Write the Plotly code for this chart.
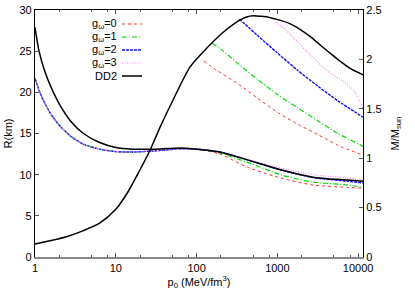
import plotly.graph_objects as go

# ---------------- data ----------------
# radius curves R(km) vs log10(p0)
logp_R_dd2 = [0.0, 0.05, 0.12, 0.2, 0.3, 0.45, 0.6, 0.8, 1.0, 1.2, 1.5, 1.8, 2.0, 2.29, 2.63, 3.04, 3.44, 3.87, 4.06]
R_dd2 = [27.9, 25.0, 22.6, 20.6, 18.6, 16.4, 15.0, 13.9, 13.3, 13.1, 13.1, 13.25, 13.1, 12.75, 11.8, 10.6, 9.7, 9.35, 9.2]

logp_R_common = [0.0, 0.06, 0.12, 0.2, 0.3, 0.45, 0.6, 0.8, 1.0, 1.2, 1.5, 1.8, 2.0]
R_common = [21.7, 20.0, 18.7, 17.3, 16.0, 14.6, 13.7, 13.1, 12.8, 12.75, 12.9, 13.15, 13.1]

logp_R_tail = [2.29, 2.63, 3.04, 3.44, 3.87, 4.06]
R_g0_tail = [12.5, 10.9, 9.6, 8.75, 8.45, 8.35]
R_g1_tail = [12.6, 11.5, 10.0, 9.1, 8.75, 8.45]
R_g2_tail = [12.75, 11.8, 10.6, 9.65, 9.2, 9.0]
R_g3_tail = [12.75, 11.85, 10.8, 10.0, 9.6, 9.35]

# mass curves M/Msun vs log10(p0)
logp_M_dd2 = [0.0, 0.2, 0.4, 0.6, 0.8, 1.0, 1.15, 1.3, 1.425, 1.55, 1.71, 1.92, 2.13, 2.33, 2.54, 2.62, 2.70, 2.79, 2.9,
              3.04, 3.16, 3.28, 3.40, 3.53, 3.65, 3.78, 3.90, 4.06]
M_dd2 = [0.132, 0.167, 0.208, 0.267, 0.342, 0.483, 0.658, 0.883, 1.083, 1.317, 1.592, 1.925, 2.117, 2.275, 2.40, 2.43,
         2.442, 2.436, 2.425, 2.395, 2.36, 2.305, 2.235, 2.146, 2.065, 1.98, 1.91, 1.845]

logp_M_g0 = [2.09, 2.25, 2.5, 2.75, 3.0, 3.25, 3.5, 3.75, 4.06]
M_g0 = [1.983, 1.89, 1.76, 1.61, 1.465, 1.345, 1.24, 1.13, 1.03]
logp_M_g1 = [2.19, 2.33, 2.5, 2.75, 3.0, 3.25, 3.5, 3.75, 4.06]
M_g1 = [2.167, 2.085, 1.965, 1.80, 1.645, 1.51, 1.38, 1.25, 1.12]
logp_M_g2 = [2.53, 2.75, 3.0, 3.25, 3.5, 3.75, 4.06]
M_g2 = [2.408, 2.245, 2.065, 1.89, 1.73, 1.58, 1.415]
logp_M_g3 = [2.98, 3.07, 3.2, 3.41, 3.62, 3.82, 3.94, 4.0, 4.03, 4.06]
M_g3 = [2.375, 2.325, 2.217, 2.042, 1.883, 1.775, 1.69, 1.61, 1.56, 1.50]

x_tickvals = [1, 10, 100, 1000, 10000]
x_ticktext = ["1", "10", "100", "1000", "10000"]
yR_ticks = [0, 5, 10, 15, 20, 25, 30]
yM_ticks = [0, 0.5, 1, 1.5, 2, 2.5]
yM_ticktext = ["0", "0.5", "1", "1.5", "2", "2.5"]

series_names = ["g<sub>ω</sub>=0", "g<sub>ω</sub>=1", "g<sub>ω</sub>=2", "g<sub>ω</sub>=3", "DD2"]

# ---------------- styles ----------------
styles = [
    dict(color="#ff3030", width=1, dash="3px,3px"),
    dict(color="#00dd00", width=1.2, dash="5px,2px,1px,2px"),
    dict(color="#1010ff", width=1.4, dash="3px,1px"),
    dict(color="#ee82ee", width=1.2, dash="1px,1.5px"),
    dict(color="#000000", width=1.5, dash="solid"),
]

def P(lst):
    return [10 ** v for v in lst]

fig = go.Figure()

R_tails = [R_g0_tail, R_g1_tail, R_g2_tail, R_g3_tail]
M_logs = [logp_M_g0, logp_M_g1, logp_M_g2, logp_M_g3]
M_vals = [M_g0, M_g1, M_g2, M_g3]

for i in range(4):
    fig.add_trace(go.Scatter(x=P(logp_R_common + logp_R_tail), y=R_common + R_tails[i],
                             mode="lines", line=dict(**styles[i], shape="spline", smoothing=0.7),
                             showlegend=False, xaxis="x", yaxis="y"))
    fig.add_trace(go.Scatter(x=P(M_logs[i]), y=M_vals[i],
                             mode="lines", line=dict(**styles[i], shape="spline", smoothing=0.6),
                             showlegend=False, xaxis="x", yaxis="y2"))

fig.add_trace(go.Scatter(x=P(logp_R_dd2), y=R_dd2, mode="lines",
                         line=dict(**styles[4], shape="spline", smoothing=0.7),
                         showlegend=False, xaxis="x", yaxis="y"))
fig.add_trace(go.Scatter(x=P(logp_M_dd2), y=M_dd2, mode="lines",
                         line=dict(**styles[4], shape="spline", smoothing=0.7),
                         showlegend=False, xaxis="x", yaxis="y2"))

# ---------------- layout ----------------
x0, x1, ytop, ybot = 35, 363, 10, 257   # plot area in window pixels
W, H = 415, 291
font = dict(family="Liberation Sans, Arial, sans-serif", size=11, color="#000")

xrange = [0, 4.06]
minor_vals = [v * m for v in [1, 10, 100, 1000, 10000] for m in (2, 5, 8) if v * m < 11500]

fig.update_layout(
    width=W, height=H,
    margin=dict(l=x0, r=W - x1, t=ytop, b=H - ybot, pad=0, autoexpand=False),
    paper_bgcolor="white", plot_bgcolor="white",
    font=font,
    showlegend=False,
    xaxis=dict(type="log", range=xrange, tickvals=x_tickvals, ticktext=x_ticktext, automargin=False,
               ticks="inside", ticklen=4, tickcolor="#555", showgrid=False, zeroline=False,
               showline=True, linecolor="#888", linewidth=2, ticklabeloverflow="allow",
               minor=dict(tickvals=minor_vals, ticks="inside", ticklen=2, tickcolor="#555"),
               title=dict(text="p<sub>0</sub> (MeV/fm<sup>3</sup>)", standoff=0, font=font)),
    xaxis2=dict(type="log", range=xrange, overlaying="x", side="top", tickvals=x_tickvals, automargin=False,
                showticklabels=False, ticks="inside", ticklen=4, tickcolor="#555",
                showgrid=False, zeroline=False, showline=True, linecolor="#000", linewidth=1,
                minor=dict(tickvals=minor_vals, ticks="inside", ticklen=2, tickcolor="#555")),
    yaxis=dict(range=[0, 30], tickvals=yR_ticks, ticks="inside", ticklen=4, tickcolor="#555", automargin=False,
               showgrid=False, zeroline=False, showline=True, linecolor="#000", linewidth=1.2,
               ticklabeloverflow="allow",
               title=dict(text="R(km)", standoff=4, font=font)),
    yaxis2=dict(range=[0, 2.5], overlaying="y", side="right", tickvals=yM_ticks, ticktext=yM_ticktext,
                ticks="inside", ticklen=4, tickcolor="#555", automargin=False,
                showgrid=False, zeroline=False, showline=True, linecolor="#000", linewidth=1.2,
                ticklabeloverflow="allow",
                title=dict(text="M/M<sub>sun</sub>", standoff=10, font=font)),
)
# invisible trace to activate the top mirror axis
fig.add_trace(go.Scatter(x=[1], y=[0], mode="markers", marker=dict(opacity=0), xaxis="x2", yaxis="y",
                         showlegend=False, hoverinfo="skip"))

# ---------------- manual gnuplot-style key ----------------
def px(xp):
    return (xp - x0) / (x1 - x0)

def py(yp):
    return (ybot - yp) / (ybot - ytop)

rows = [24, 37, 50, 63, 76]
for name, st, r in zip(series_names, styles, rows):
    fig.add_annotation(xref="paper", yref="paper", x=px(119), y=py(r), text=name,
                       showarrow=False, xanchor="right", yanchor="middle", font=font)
    fig.add_shape(type="line", xref="paper", yref="paper", x0=px(122), x1=px(142),
                  y0=py(r), y1=py(r), line=dict(color=st["color"], width=st["width"], dash=st["dash"]))

fig.write_html("out.html", config={"displayModeBar": False},
               post_script="document.body.style.margin='0';document.body.style.padding='0';")
